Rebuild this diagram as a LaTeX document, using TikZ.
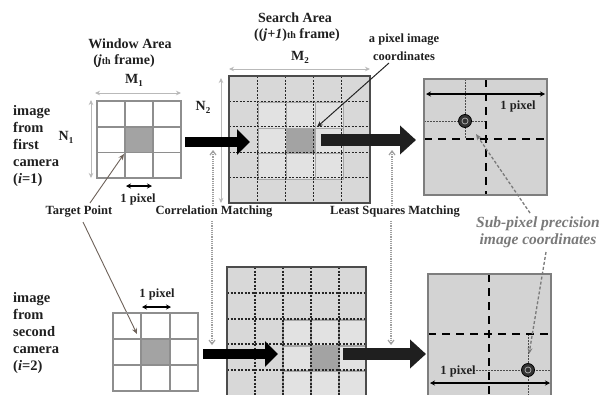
\documentclass[tikz,border=0pt]{standalone}
\usepackage{fontspec}
\setmainfont{Liberation Serif}
\usetikzlibrary{arrows.meta}
\definecolor{gridgray}{HTML}{8E8E8E}
\definecolor{cellgray}{HTML}{A3A3A3}
\definecolor{searchfill}{HTML}{D8D8D8}
\definecolor{overfill}{HTML}{E2E2E2}
\definecolor{boxfill}{HTML}{D3D3D3}
\definecolor{boxline}{HTML}{7E7E7E}
\definecolor{labgray}{HTML}{7A7A7A}
\definecolor{tgtline}{HTML}{6E625A}
\definecolor{txt}{HTML}{202020}
\begin{document}
\begin{tikzpicture}[x=1pt,y=-1pt,
  title/.style={font=\fontsize{14}{16}\selectfont\bfseries, inner sep=0pt, text=txt},
  side/.style={font=\fontsize{14.5}{17}\selectfont\bfseries, inner sep=0pt, align=left, anchor=north west, text=txt},
  lab/.style={font=\fontsize{12.5}{15}\selectfont\bfseries, inner sep=0pt, text=txt},
  sublab/.style={font=\fontsize{15.5}{17}\selectfont\bfseries\itshape, inner sep=0pt, align=center, text=labgray},
  dimarrow/.style={draw=gray!55, line width=1pt, {Stealth[length=5pt,width=4.5pt]}-{Stealth[length=5pt,width=4.5pt]}},
  pixarrow/.style={draw=black, line width=1.2pt, {Stealth[length=5pt,width=5pt]}-{Stealth[length=5pt,width=5pt]}},
  matcharrow/.style={draw=gray!75, line width=1.2pt, densely dotted, -{Straight Barb[length=4pt,width=6pt]}},
  blockarrowA/.style={line width=10.5pt, -{Triangle[length=13pt,width=25pt]}},
  blockarrowB/.style={line width=12pt, -{Triangle[length=16pt,width=28pt]}},
  wgrid/.style={draw=gridgray, line width=1.4pt},
  dgrid/.style={draw=black!85, line width=1.1pt, dash pattern=on 2pt off 1.5pt},
  ogrid/.style={draw=gray!70, line width=1.3pt},
  bigdash/.style={draw=black, line width=2.6pt, dash pattern=on 8pt off 6pt},
  smalldot/.style={draw=black!70, line width=1pt, dash pattern=on 1.5pt off 1.5pt},
  spline/.style={draw=labgray, line width=1.3pt, dash pattern=on 3pt off 2pt, -{Stealth[length=6pt,width=5pt]}},
  tgt/.style={draw=tgtline, line width=0.9pt, -{Stealth[length=6pt,width=5pt]}},
  subpt/.style={fill=black!80, draw=black, line width=0.8pt}
]
\useasboundingbox (0,0) rectangle (601,394);
\fill[white] (0,0) rectangle (601,394);

% ---------- titles ----------
\node[title] (wa) at (130,44) {Window Area};
\node[title] (wf) at (124,61) {(\textit{j}{\fontsize{10}{12}\selectfont th} frame)};
\node[title] (sa) at (295,18) {Search Area};
\node[title] (sf) at (297,35) {((\textit{j+1}){\fontsize{10}{12}\selectfont th} frame)};
\node[lab] (pic1) at (404,40) {a pixel image};
\node[lab] (pic2) at (404,56) {coordinates};

% ---------- side labels ----------
\node[side] (cam1) at (13,105) {image\\from\\first\\camera\\(\textit{i}=1)};
\node[side] (cam2) at (13,292) {image\\from\\second\\camera\\(\textit{i}=2)};

% ---------- top window grid ----------
\fill[cellgray] (125,127) rectangle (153,152.5);
\draw[wgrid] (97,101) rectangle (181,178);
\foreach \x in {125,153} \draw[wgrid] (\x,101) -- (\x,178);
\foreach \y in {127,152.5} \draw[wgrid] (97,\y) -- (181,\y);
\coordinate (m1a) at (95,93); \coordinate (m1b) at (181,93);
\draw[dimarrow] (m1a) -- (m1b);
\coordinate (n1a) at (91,100); \coordinate (n1b) at (91,178);
\draw[dimarrow] (n1a) -- (n1b);
\node[title] (m1) at (134,80) {M\raisebox{-3pt}{\fontsize{9}{9}\selectfont 1}};
\node[title] (n1) at (66,137) {N\raisebox{-3pt}{\fontsize{9}{9}\selectfont 1}};
\coordinate (px1a) at (126,186); \coordinate (px1b) at (152,186);
\draw[pixarrow] (px1a) -- (px1b);
\node[lab] (px1) at (138,199) {1 pixel};

% ---------- top search grid ----------
\fill[searchfill] (229,76) rectangle (370,203);
\fill[overfill] (258.5,102.5) rectangle (343.5,179.5);
\fill[cellgray] (286.5,128.5) rectangle (315.5,153.5);
\foreach \x in {258.5,286.5,315.5,343.5} \draw[ogrid] (\x,102.5) -- (\x,179.5);
\foreach \y in {102.5,128.5,153.5,179.5} \draw[ogrid] (258.5,\y) -- (343.5,\y);
\foreach \x in {257.2,285.4,313.6,341.8} \draw[dgrid] (\x,76) -- (\x,203);
\foreach \y in {101.4,126.8,152.2,177.6} \draw[dgrid] (229,\y) -- (370,\y);
\draw[draw=black!70, line width=1.6pt] (229,76) rectangle (370,203);
\coordinate (m2a) at (229,69); \coordinate (m2b) at (370,69);
\draw[dimarrow] (m2a) -- (m2b);
\coordinate (n2a) at (221,78); \coordinate (n2b) at (221,203);
\draw[dimarrow] (n2a) -- (n2b);
\node[title] (m2) at (300,57) {M\raisebox{-3pt}{\fontsize{9}{9}\selectfont 2}};
\node[title] (n2) at (203,107) {N\raisebox{-3pt}{\fontsize{9}{9}\selectfont 2}};
\coordinate (picS) at (389,63); \coordinate (picT) at (317,127);
\draw[draw=black!85, line width=1pt, -{Stealth[length=6pt,width=5pt]}] (picS) -- (picT);

% ---------- top right box ----------
\fill[boxfill] (424,79) rectangle (547,195);
\draw[smalldot] (465,79) -- (465,139);
\draw[smalldot] (424,121) -- (486,121);
\draw[bigdash] (486,79) -- (486,195);
\draw[bigdash] (424,139) -- (547,139);
\draw[draw=boxline, line width=2pt] (424,79) rectangle (547,195);
\coordinate (rp1a) at (426,94); \coordinate (rp1b) at (545,94);
\draw[pixarrow] (rp1a) -- (rp1b);
\node[lab] (rpx1) at (518,106) {1 pixel};
\node[subpt, circle, minimum size=13pt, inner sep=0pt] (sp1) at (465,121) {};
\draw[gray!60, line width=0.7pt] (sp1.center) circle (3pt);

% ---------- block arrows top ----------
\coordinate (ba1s) at (185,142); \coordinate (ba1e) at (250,142);
\draw[blockarrowA, draw=black] (ba1s) -- (ba1e);
\coordinate (ba2s) at (321,140); \coordinate (ba2e) at (416,140);
\draw[blockarrowB, draw=black!88] (ba2s) -- (ba2e);

% ---------- middle labels ----------
\node[lab] (tp) at (79,212) {Target Point};
\node[lab] (cm) at (214,212) {Correlation Matching};
\node[lab] (ls) at (395,212) {Least Squares Matching};
\node[sublab] (spl) at (538,232) {Sub-pixel precision\\image coordinates};

\coordinate (tpS1) at (90,203); \coordinate (tpT1) at (124,154);
\draw[tgt] (tpS1) -- (tpT1);
\coordinate (tpS2) at (83,222); \coordinate (tpT2) at (137,334);
\draw[tgt] (tpS2) -- (tpT2);

\coordinate (cmU) at (213,150); \coordinate (cmD) at (212,345);
\draw[matcharrow] (cm.north -| cmU) -- (cmU);
\draw[matcharrow] (cm.south -| cmD) ++(0,3) -- (cmD);
\coordinate (lsU) at (392,150); \coordinate (lsD) at (391,345);
\draw[matcharrow] (ls.north -| lsU) -- (lsU);
\draw[matcharrow] (ls.south -| lsD) ++(0,3) -- (lsD);

\coordinate (spA) at (530,213); \coordinate (spB) at (476,134);
\draw[spline] (spA) -- (spB);

% ---------- bottom window grid ----------
\fill[cellgray] (141,339) rectangle (170,365);
\draw[wgrid] (113,313) rectangle (198,391);
\foreach \x in {141,170} \draw[wgrid] (\x,313) -- (\x,391);
\foreach \y in {339,365} \draw[wgrid] (113,\y) -- (198,\y);
\coordinate (px2a) at (142,307); \coordinate (px2b) at (171,307);
\draw[pixarrow] (px2a) -- (px2b);
\node[lab] (px2) at (157,294) {1 pixel};

% ---------- bottom search grid ----------
\fill[searchfill] (227,267) rectangle (366,397);
\fill[overfill] (283,320) rectangle (366,397);
\fill[cellgray] (311,345.5) rectangle (338.5,370);
\foreach \x in {283,311,339} \draw[ogrid] (\x,320) -- (\x,397);
\foreach \y in {320,346,371} \draw[ogrid] (283,\y) -- (366,\y);
\foreach \x in {255,283,311,339} \draw[dgrid] (\x,267) -- (\x,397);
\foreach \y in {293,319,344,370} \draw[dgrid] (227,\y) -- (366,\y);
\draw[draw=black!70, line width=1.6pt] (227,267) rectangle (366,397);

% ---------- bottom right box ----------
\fill[boxfill] (428,274) rectangle (551,398);
\draw[smalldot] (470,370) -- (551,370);
\draw[smalldot] (528,334) -- (528,398);
\draw[bigdash] (489,274) -- (489,398);
\draw[bigdash] (428,334) -- (551,334);
\draw[draw=boxline, line width=2pt] (428,274) rectangle (551,398);
\node[lab] (rpx2) at (458,371) {1 pixel};
\coordinate (rp2a) at (430,383); \coordinate (rp2b) at (550,383);
\draw[pixarrow] (rp2a) -- (rp2b);
\node[subpt, circle, minimum size=13pt, inner sep=0pt] (sp2) at (528,370) {};
\draw[gray!60, line width=0.7pt] (sp2.center) circle (3pt);
\coordinate (spC) at (546,252); \coordinate (spD) at (529,354);
\draw[spline] (spC) -- (spD);

% ---------- block arrows bottom ----------
\coordinate (ba3s) at (203,354); \coordinate (ba3e) at (278,354);
\draw[blockarrowA, draw=black] (ba3s) -- (ba3e);
\coordinate (ba4s) at (343,354); \coordinate (ba4e) at (426,354);
\draw[blockarrowB, draw=black!88] (ba4s) -- (ba4e);
\end{tikzpicture}
\end{document}
